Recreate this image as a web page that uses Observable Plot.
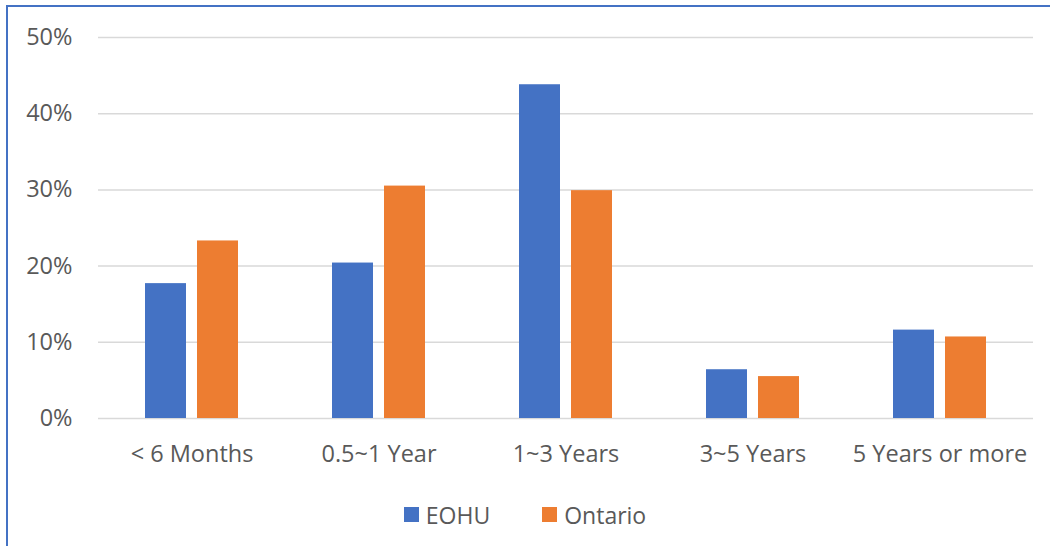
<!DOCTYPE html>
<html><head><meta charset="utf-8">
<script src="https://cdn.jsdelivr.net/npm/d3@7"></script>
<script src="https://cdn.jsdelivr.net/npm/@observablehq/plot@0.6"></script>
<style>
body{margin:0;background:#fff;width:1050px;height:546px;overflow:hidden;position:relative;font-family:"Open Sans",sans-serif;}
#frame{position:absolute;left:6px;top:5px;width:1100px;height:600px;border-left:2px solid #4472C4;border-top:2px solid #4472C4;}
#chart{position:absolute;left:0;top:0;}
#legend{position:absolute;left:0;top:498px;width:1050px;}
.lg-swatches-wrap{justify-content:center;margin:0 !important;}
.lg-swatch{margin-right:52px !important;}
.lg-swatch:last-child{margin-right:0 !important;}
.lg-swatch > svg{margin-right:7px !important;}
</style></head><body>
<div id="frame"></div><div id="chart"></div><div id="legend"></div>
<script>
const categories = ["< 6 Months", "0.5~1 Year", "1~3 Years", "3~5 Years", "5 Years or more"];
const series = ["EOHU", "Ontario"];
const eohu = [17.7, 20.4, 43.8, 6.4, 11.6];
const ontario = [23.3, 30.5, 29.9, 5.5, 10.7];
const yTicks = [0, 10, 20, 30, 40, 50];
const colors = ["#4472C4", "#ED7D31"];

const rows = categories.flatMap((c, i) => [
  {cat: c, series: "EOHU", value: eohu[i]},
  {cat: c, series: "Ontario", value: ontario[i]}
]);

const chart = Plot.plot({
  width: 1050, height: 480,
  marginTop: 37, marginLeft: 96, marginRight: 16, marginBottom: 62,
  style: {fontFamily: '"Open Sans", sans-serif', fontSize: "23.5px", color: "#595959", background: "transparent"},
  facet: {data: rows, x: "cat"},
  fx: {domain: categories, paddingInner: 0, paddingOuter: 0, label: null, axis: "bottom", tickSize: 0, tickPadding: 27},
  x: {domain: series, paddingInner: 0.2075, paddingOuter: 0.872, axis: null},
  y: {domain: [0, 50], ticks: yTicks, tickFormat: d => d + "%", tickSize: 0, tickPadding: 26, label: null},
  color: {domain: series, range: colors},
  marks: [
    Plot.ruleY(yTicks, {stroke: "#d9d9d9", strokeWidth: 1.5}),
    Plot.barY(rows, {x: "series", y: "value", fill: "series"})
  ]
});
document.getElementById("chart").appendChild(chart);

const legend = Plot.legend({
  color: {domain: series, range: colors},
  legend: "swatches",
  swatchSize: 15,
  className: "lg",
  style: {fontFamily: '"Open Sans", sans-serif', fontSize: "23px", color: "#595959"}
});
document.getElementById("legend").appendChild(legend);
</script>
</body></html>
